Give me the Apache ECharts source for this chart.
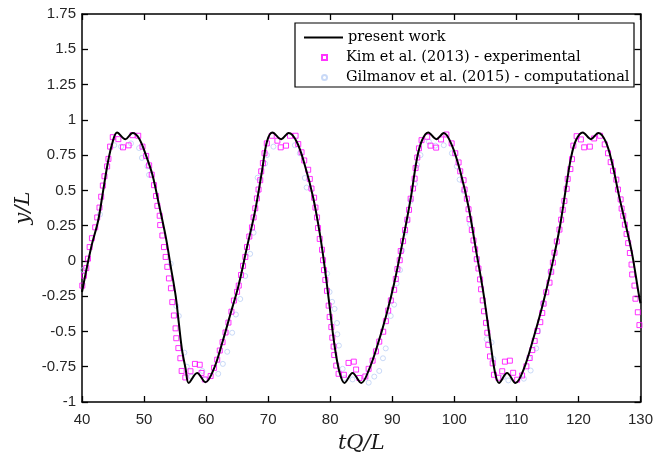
<!DOCTYPE html>
<html>
<head>
<meta charset="utf-8">
<script src="https://cdn.jsdelivr.net/npm/echarts@6/dist/echarts.min.js"></script>
<style>
  html, body { margin: 0; padding: 0; background: #fff; }
  #chart { width: 656px; height: 459px; }
</style>
</head>
<body>
<div id="chart"></div>
<script>
// present work (black line)
const lineT = [40.0, 41.5, 42.6, 43.4, 44.2, 44.95, 45.65, 47.0, 48.15, 49.2, 50.3, 51.35, 52.4, 53.5, 54.3, 55.1, 55.6, 56.1, 56.7, 57.2, 58.55, 59.9, 61.25, 62.6, 63.9, 65.25, 66.6, 67.9, 69.0, 69.8, 70.7, 72.1, 73.3, 74.6, 75.9, 77.25, 78.3, 79.1, 79.9, 80.7, 81.5, 82.3, 83.6, 85.0, 86.3, 87.6, 89.0, 90.3, 91.6, 93.0, 94.0, 94.8, 95.8, 97.1, 98.3, 99.6, 100.95, 102.3, 103.6, 104.7, 105.75, 106.55, 107.2, 108.5, 109.85, 111.2, 112.7, 114.3, 115.9, 117.0, 118.0, 118.8, 119.6, 120.7, 122.0, 123.2, 124.4, 125.5, 126.5, 127.6, 128.65, 129.7, 130.0];
const lineY = [-0.22, 0.10, 0.285, 0.495, 0.705, 0.845, 0.91, 0.863, 0.907, 0.868, 0.75, 0.61, 0.40, 0.17, -0.04, -0.25, -0.44, -0.625, -0.765, -0.865, -0.795, -0.86, -0.765, -0.58, -0.38, -0.17, 0.10, 0.355, 0.635, 0.845, 0.91, 0.863, 0.907, 0.845, 0.68, 0.45, 0.2, -0.04, -0.32, -0.60, -0.79, -0.865, -0.795, -0.865, -0.765, -0.60, -0.39, -0.16, 0.12, 0.45, 0.73, 0.855, 0.91, 0.863, 0.907, 0.82, 0.635, 0.38, 0.05, -0.23, -0.555, -0.79, -0.865, -0.795, -0.865, -0.765, -0.555, -0.30, 0.0, 0.24, 0.52, 0.73, 0.855, 0.91, 0.863, 0.907, 0.845, 0.68, 0.47, 0.26, 0.05, -0.23, -0.3];

// Kim et al. (2013) - experimental (magenta squares)
const kimT = [40.05, 40.32, 40.69, 40.96, 41.23, 41.6, 42.13, 42.45, 42.82, 43.09, 43.36, 43.62, 44.05, 44.26, 44.53, 44.96, 45.86, 46.61, 47.51, 48.15, 49.06, 49.75, 50.34, 50.82, 51.24, 51.61, 51.94, 52.15, 52.52, 52.6, 52.95, 53.21, 53.48, 53.75, 54.01, 54.33, 54.55, 54.81, 55.08, 55.19, 55.53, 55.85, 56.06, 56.65, 57.48, 58.2, 58.97, 59.26, 59.8, 60.73, 61.28, 61.79, 62.2, 62.65, 63.13, 63.6, 64.08, 64.48, 64.99, 65.26, 65.63, 65.95, 66.32, 66.59, 66.96, 67.39, 67.65, 67.92, 68.19, 68.45, 68.72, 68.88, 69.15, 69.41, 69.78, 70.58, 71.49, 72.02, 72.88, 73.52, 74.42, 74.85, 75.38, 75.81, 76.45, 76.71, 76.98, 77.4, 77.62, 77.88, 78.04, 78.31, 78.68, 78.84, 79.0, 79.21, 79.48, 79.75, 79.91, 80.18, 80.34, 80.55, 80.65, 80.97, 81.35, 82.2, 82.95, 83.8, 84.17, 84.7, 85.66, 86.19, 86.83, 87.37, 87.9, 88.54, 88.97, 89.34, 89.77, 90.3, 90.57, 90.83, 91.2, 91.36, 91.74, 92.06, 92.43, 92.7, 92.96, 93.34, 93.6, 93.76, 94.03, 94.3, 94.72, 95.63, 96.16, 97.07, 97.86, 98.72, 99.57, 100.15, 100.69, 100.95, 101.49, 101.65, 102.02, 102.29, 102.45, 102.82, 103.09, 103.35, 103.62, 103.89, 104.15, 104.31, 104.58, 104.79, 105.11, 105.32, 105.48, 105.75, 106.18, 106.39, 107.08, 107.72, 108.15, 108.95, 109.48, 110.12, 110.92, 111.61, 112.15, 112.57, 112.95, 113.37, 113.85, 114.17, 114.39, 114.81, 115.34, 115.61, 115.88, 116.14, 116.52, 116.94, 117.21, 117.47, 117.74, 118.11, 118.27, 118.7, 118.96, 119.18, 119.71, 120.4, 120.93, 121.84, 122.53, 123.49, 124.24, 124.77, 125.2, 125.57, 126.1, 126.37, 126.8, 126.96, 127.22, 127.49, 127.76, 128.02, 128.29, 128.56, 128.66, 129.03, 129.19, 129.57, 129.83];
const kimY = [-0.175, -0.105, -0.051, 0.016, 0.098, 0.161, 0.238, 0.308, 0.378, 0.455, 0.534, 0.60, 0.67, 0.723, 0.81, 0.877, 0.863, 0.805, 0.819, 0.891, 0.887, 0.81, 0.744, 0.677, 0.611, 0.537, 0.46, 0.39, 0.32, 0.254, 0.18, 0.098, 0.028, -0.042, -0.124, -0.194, -0.292, -0.387, -0.478, -0.548, -0.618, -0.69, -0.78, -0.826, -0.782, -0.73, -0.736, -0.794, -0.84, -0.816, -0.758, -0.70, -0.635, -0.576, -0.507, -0.437, -0.36, -0.281, -0.219, -0.175, -0.10, -0.035, 0.028, 0.098, 0.173, 0.238, 0.308, 0.373, 0.443, 0.506, 0.572, 0.635, 0.693, 0.763, 0.833, 0.887, 0.852, 0.805, 0.817, 0.887, 0.887, 0.828, 0.77, 0.712, 0.646, 0.581, 0.513, 0.448, 0.378, 0.308, 0.233, 0.156, 0.079, 0.005, -0.065, -0.135, -0.212, -0.317, -0.397, -0.469, -0.544, -0.607, -0.667, -0.742, -0.80, -0.807, -0.723, -0.714, -0.77, -0.83, -0.819, -0.765, -0.707, -0.641, -0.572, -0.502, -0.427, -0.352, -0.28, -0.205, -0.128, -0.058, 0.005, 0.07, 0.14, 0.219, 0.292, 0.362, 0.441, 0.513, 0.583, 0.658, 0.733, 0.798, 0.856, 0.88, 0.817, 0.803, 0.861, 0.896, 0.833, 0.763, 0.698, 0.635, 0.572, 0.506, 0.441, 0.366, 0.296, 0.219, 0.145, 0.082, 0.012, -0.054, -0.131, -0.201, -0.28, -0.357, -0.439, -0.509, -0.595, -0.677, -0.726, -0.807, -0.828, -0.782, -0.714, -0.707, -0.793, -0.842, -0.812, -0.747, -0.688, -0.632, -0.567, -0.497, -0.434, -0.369, -0.303, -0.222, -0.154, -0.077, -0.012, 0.058, 0.138, 0.222, 0.292, 0.362, 0.425, 0.511, 0.581, 0.651, 0.721, 0.817, 0.884, 0.861, 0.805, 0.81, 0.868, 0.887, 0.826, 0.763, 0.70, 0.639, 0.576, 0.506, 0.436, 0.371, 0.32, 0.257, 0.191, 0.126, 0.056, -0.026, -0.096, -0.175, -0.268, -0.364, -0.455];

// Gilmanov et al. (2015) - computational (light blue circles)
const gilT = [40.16, 42.9, 45.2, 46.3, 47.9, 49.2, 49.65, 50.55, 50.8, 54.3, 55.2, 55.6, 56.5, 56.9, 57.6, 59.4, 59.8, 61.95, 62.7, 63.4, 64.2, 64.8, 65.5, 66.3, 67.1, 67.65, 68.3, 69.5, 69.8, 70.85, 74.3, 75.1, 75.9, 76.2, 79.5, 79.9, 80.3, 80.7, 81.1, 81.15, 81.4, 82.0, 82.3, 83.6, 86.2, 87.1, 87.9, 88.5, 88.95, 89.75, 90.3, 90.7, 91.25, 91.6, 92.05, 92.4, 92.96, 93.65, 94.0, 94.55, 95.9, 96.95, 98.3, 99.6, 100.4, 100.85, 101.5, 102.55, 103.6, 105.2, 106.0, 106.3, 107.9, 108.7, 111.2, 112.05, 112.3, 113.2, 113.5, 114.3, 115.45];
const gilY = [-0.065, 0.33, 0.82, 0.81, 0.833, 0.80, 0.73, 0.67, 0.61, -0.02, -0.32, -0.39, -0.65, -0.75, -0.82, -0.78, -0.84, -0.80, -0.73, -0.644, -0.509, -0.38, -0.27, -0.107, 0.05, 0.20, 0.59, 0.69, 0.75, 0.81, 0.82, 0.763, 0.588, 0.52, -0.09, -0.22, -0.29, -0.34, -0.44, -0.52, -0.60, -0.765, -0.83, -0.84, -0.863, -0.82, -0.78, -0.69, -0.62, -0.39, -0.31, -0.16, -0.065, 0.075, 0.20, 0.285, 0.425, 0.545, 0.68, 0.75, 0.845, 0.817, 0.82, 0.763, 0.67, 0.576, 0.495, 0.26, 0.016, -0.555, -0.578, -0.695, -0.823, -0.847, -0.835, -0.69, -0.777, -0.62, -0.497, -0.30, -0.077];

const seriesNames = ['present work', 'Kim et al. (2013) - experimental', 'Gilmanov et al. (2015) - computational'];

const pairs = (xs, ys) => xs.map((x, i) => [x, ys[i]]);

const chart = echarts.init(document.getElementById('chart'), null, {renderer: 'canvas'});

const labelFont = {color: '#262626', fontFamily: 'Liberation Sans, Arial, sans-serif', fontSize: 15};
const legendFont = {color: '#000', fontFamily: 'DejaVu Serif, serif', fontSize: 14.5};
const boxLine = {show: true, onZero: false, lineStyle: {color: '#000', width: 1.5}};
const tickIn = {show: true, inside: true, length: 6, lineStyle: {color: '#000', width: 1.3}};

const option = {
  backgroundColor: '#fff',
  animation: false,
  grid: {left: 82, right: 11, top: 14, bottom: 52, containLabel: false},
  legend: [
    {
      data: [seriesNames[0]],
      left: 299, top: 25,
      itemWidth: 39, itemHeight: 2, icon: 'rect',
      selectedMode: false,
      textStyle: legendFont
    },
    {
      data: [seriesNames[1]],
      left: 316, top: 45,
      itemWidth: 5, itemHeight: 5, icon: 'rect',
      selectedMode: false,
      textStyle: Object.assign({padding: [0, 0, 0, 14]}, legendFont)
    },
    {
      data: [seriesNames[2]],
      left: 316, top: 65,
      itemWidth: 5, itemHeight: 5, icon: 'circle',
      selectedMode: false,
      textStyle: Object.assign({padding: [0, 0, 0, 14]}, legendFont)
    }
  ],
  graphic: [{
    type: 'rect', z: 3,
    shape: {x: 295, y: 23, width: 339, height: 64},
    style: {fill: '#fff', stroke: '#000', lineWidth: 1.2}
  }],
  xAxis: [
    {
      type: 'value', min: 40, max: 130, interval: 10, position: 'bottom',
      name: 'tQ/L', nameLocation: 'middle', nameGap: 31, nameMoveOverlap: false,
      nameTextStyle: {fontFamily: 'DejaVu Serif, serif', fontStyle: 'italic', fontSize: 21, color: '#1a1a1a'},
      axisLine: boxLine, axisTick: tickIn,
      axisLabel: Object.assign({margin: 10}, labelFont),
      splitLine: {show: false}
    },
    {
      type: 'value', min: 40, max: 130, interval: 10, position: 'top',
      axisLine: boxLine, axisTick: tickIn, axisLabel: {show: false}, splitLine: {show: false}
    }
  ],
  yAxis: [
    {
      type: 'value', min: -1, max: 1.75, interval: 0.25, position: 'left',
      name: 'y/L', nameLocation: 'middle', nameGap: 48, nameRotate: 90, nameMoveOverlap: false,
      nameTextStyle: {fontFamily: 'DejaVu Serif, serif', fontStyle: 'italic', fontSize: 21, color: '#1a1a1a'},
      axisLine: boxLine, axisTick: tickIn,
      axisLabel: Object.assign({margin: 6}, labelFont),
      splitLine: {show: false}
    },
    {
      type: 'value', min: -1, max: 1.75, interval: 0.25, position: 'right',
      axisLine: boxLine, axisTick: tickIn, axisLabel: {show: false}, splitLine: {show: false}
    }
  ],
  series: [
    {
      name: seriesNames[2],
      type: 'scatter',
      symbol: 'circle', symbolSize: 5,
      itemStyle: {color: 'rgba(0,0,0,0)', borderColor: '#bcd0f5', borderWidth: 1},
      data: pairs(gilT, gilY),
      z: 2
    },
    {
      name: seriesNames[1],
      type: 'scatter',
      symbol: 'rect', symbolSize: 5,
      itemStyle: {color: 'rgba(0,0,0,0)', borderColor: '#ff00ff', borderWidth: 1},
      data: pairs(kimT, kimY),
      z: 3
    },
    {
      name: seriesNames[0],
      type: 'line',
      smooth: 0.35,
      showSymbol: false,
      lineStyle: {color: '#000', width: 2},
      itemStyle: {color: '#000'},
      data: pairs(lineT, lineY),
      z: 4
    }
  ]
};

chart.setOption(option);
</script>
</body>
</html>
